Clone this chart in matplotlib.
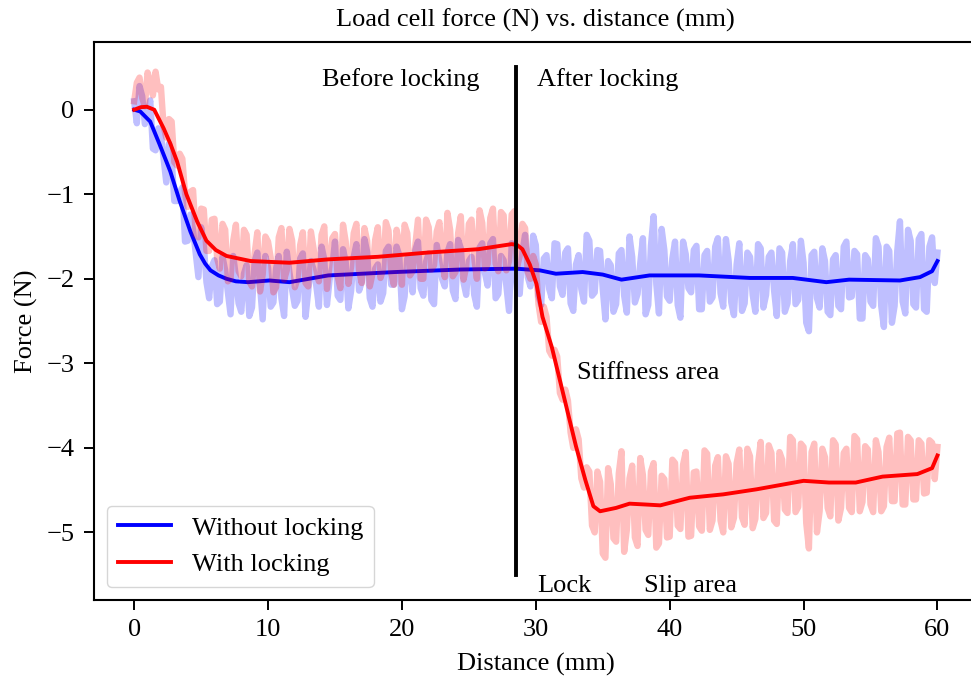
import matplotlib
matplotlib.use("Agg")
import numpy as np
import matplotlib.pyplot as plt

plt.rcParams['font.family'] = ['Liberation Serif', 'DejaVu Serif']
plt.rcParams['font.size'] = 19

# raw samples: values at 0, 0.4, 0.8 ... 60 mm
raw_without = [
    0.10, 0.28, -0.17, 0.11, -0.48, -0.30, -0.86, -0.58, -1.08, -0.92,
    -1.55, -1.42, -1.98, -1.59, -2.23, -1.78, -2.27, -1.90, -2.42, -1.98,
    -2.39, -1.84, -2.34, -1.69, -2.48, -1.87, -2.28, -1.73, -2.44, -1.93,
    -2.32, -1.76, -2.45, -1.79, -2.08, -1.62, -2.31, -1.86, -2.20, -1.65,
    -2.35, -1.74, -2.14, -1.53, -2.23, -1.88, -2.27, -1.67, -2.07, -1.62,
    -2.36, -1.76, -2.16, -1.56, -2.20, -1.70, -2.30, -1.80, -2.09, -1.59,
    -2.24, -1.64, -2.19, -1.74, -2.33, -1.58, -2.08, -1.53, -2.18, -1.78,
    -2.38, -1.63, -2.18, -1.48, -2.09, -1.60, -2.31, -1.72, -2.23, -1.59,
    -2.19, -1.64, -2.38, -1.72, -2.27, -1.55, -2.16, -1.67, -2.48, -1.84,
    -2.30, -1.66, -2.40, -1.74, -2.18, -1.52, -2.31, -1.26, -2.41, -1.66,
    -2.26, -1.56, -2.46, -1.71, -2.16, -1.61, -2.36, -1.67, -2.22, -1.52,
    -2.33, -1.78, -2.43, -1.58, -2.29, -1.74, -2.39, -1.64, -2.19, -1.69,
    -2.44, -1.69, -2.29, -1.59, -2.25, -1.81, -2.62, -1.68, -2.34, -1.79,
    -2.43, -1.72, -2.36, -1.56, -2.21, -1.71, -2.47, -1.77, -2.32, -1.62,
    -2.57, -1.67, -2.32, -1.32, -2.41, -1.55, -2.34, -1.47, -2.39, -1.51,
    -1.69,
]
# samples in between: 0.2, 0.6, 1.0 ... 59.8 mm
raw_without_mid = [
    -0.16, 0.16, -0.05, -0.46, -0.22, -0.58, -0.40, -1.08, -0.98, -1.56,
    -1.24, -1.70, -1.39, -2.04, -1.85, -2.30, -1.74, -2.16, -1.73, -2.29,
    -1.94, -2.44, -1.79, -2.09, -1.73, -2.33, -1.88, -2.23, -1.68, -2.13,
    -2.26, -1.70, -2.15, -1.89, -2.33, -1.77, -2.01, -1.56, -2.25, -1.80,
    -2.15, -1.59, -2.04, -1.68, -2.33, -1.83, -2.17, -1.62, -2.07, -1.72,
    -2.21, -1.76, -1.66, -2.11, -1.80, -2.25, -1.60, -2.00, -1.69, -2.14,
    -1.54, -2.04, -1.79, -2.19, -1.63, -1.93, -1.58, -2.23, -1.73, -2.08,
    -1.58, -2.13, -1.68, -1.98, -1.49, -2.20, -1.76, -2.12, -1.58, -2.09,
    -1.69, -2.29, -1.83, -2.12, -1.48, -2.20, -1.66, -2.12, -1.79, -2.39,
    -1.70, -2.20, -1.50, -2.28, -1.82, -2.42, -1.61, -2.06, -1.41, -2.21,
    -1.76, -2.31, -1.56, -2.11, -1.66, -2.36, -1.72, -2.27, -1.62, -2.17,
    -1.53, -2.28, -1.83, -2.38, -1.69, -2.19, -1.59, -2.34, -1.74, -2.14,
    -1.64, -2.39, -1.79, -2.30, -1.55, -2.52, -1.72, -2.23, -1.64, -2.39,
    -1.77, -2.32, -1.62, -2.22, -1.67, -2.47, -1.72, -2.27, -1.52, -2.32,
    -1.62, -2.52, -1.67, -2.27, -1.42, -2.30, -1.53, -2.36, -1.62, -2.05,
]

raw_with = [
    0.10, 0.38, 0.04, 0.34, 0.45, 0.27, -0.33, -0.14, -0.66, -0.58,
    -1.15, -0.95, -1.51, -1.18, -1.67, -1.29, -1.88, -1.42, -2.00, -1.36,
    -1.97, -1.48, -2.09, -1.45, -1.95, -1.56, -2.16, -1.51, -2.01, -1.41,
    -2.10, -1.60, -2.05, -1.44, -1.89, -1.48, -2.12, -1.52, -1.97, -1.36,
    -2.06, -1.46, -1.90, -1.40, -2.09, -1.54, -1.99, -1.33, -1.93, -1.42,
    -2.07, -1.46, -1.91, -1.30, -2.00, -1.39, -1.84, -1.33, -1.98, -1.42,
    -1.92, -1.26, -1.86, -1.30, -2.00, -1.34, -1.83, -1.17, -1.91, -1.25,
    -1.79, -1.20, -1.73, -1.40, -2.00, -1.83, -2.51, -2.45, -2.91, -2.92,
    -3.43, -3.44, -4.00, -3.90, -4.47, -4.28, -5.00, -4.40, -5.30, -4.43,
    -5.11, -4.04, -4.97, -4.21, -5.16, -4.32, -5.03, -4.18, -5.13, -4.37,
    -5.05, -4.18, -4.96, -4.05, -5.04, -4.28, -4.98, -4.07, -4.86, -4.11,
    -5.00, -4.19, -4.83, -4.02, -4.91, -4.10, -4.84, -3.93, -4.77, -4.06,
    -4.90, -4.14, -4.77, -3.91, -4.70, -3.99, -5.19, -3.95, -4.75, -4.11,
    -4.81, -3.96, -4.71, -4.01, -4.76, -3.90, -4.64, -4.02, -4.76, -4.05,
    -4.69, -3.88, -4.63, -3.82, -4.67, -3.91, -4.61, -3.95, -4.53, -3.94,
    -3.99,
]
raw_with_mid = [
    0.32, 0.14, 0.44, 0.17, 0.24, -0.20, -0.11, -0.62, -0.52, -0.99,
    -0.97, -1.48, -1.17, -1.67, -1.30, -1.76, -1.35, -2.03, -1.55, -1.91,
    -1.42, -2.03, -1.70, -2.15, -1.50, -1.75, -2.10, -1.40, -1.90, -1.55,
    -2.00, -1.45, -2.09, -1.64, -2.03, -1.38, -1.82, -1.47, -2.11, -1.56,
    -1.86, -1.35, -2.05, -1.55, -1.94, -1.39, -1.89, -1.43, -2.07, -1.57,
    -1.36, -1.96, -1.60, -2.00, -1.30, -1.89, -1.44, -1.78, -1.22, -1.97,
    -1.46, -2.01, -1.35, -1.75, -1.19, -1.88, -1.28, -1.82, -1.21, -1.90,
    -1.24, -1.86, -1.35, -1.92, -1.73, -2.30, -2.33, -2.85, -2.84, -3.35,
    -3.31, -3.82, -3.78, -4.36, -4.23, -4.92, -4.28, -5.25, -4.24, -5.07,
    -4.30, -5.23, -4.36, -5.06, -4.12, -4.97, -4.28, -5.18, -4.33, -5.06,
    -4.14, -4.92, -4.20, -5.05, -4.29, -4.93, -4.03, -4.97, -4.21, -4.86,
    -4.10, -4.94, -4.18, -4.82, -4.01, -4.95, -4.19, -4.83, -3.97, -4.86,
    -4.05, -4.73, -3.87, -4.76, -3.95, -4.89, -4.05, -5.00, -4.01, -4.71,
    -3.91, -4.86, -4.06, -4.71, -3.86, -4.75, -3.98, -4.67, -3.91, -4.75,
    -3.99, -4.63, -3.83, -4.67, -3.87, -4.61, -3.91, -4.54, -3.91, -4.37,
]

# smoothed curves
x_smooth_without = [0, 0.45, 1.2, 1.9, 2.7, 3.4, 4.2, 4.9, 5.3, 5.7, 6.3, 6.9, 7.6, 8.5,
                    10.1, 11.6, 14.5, 19.5, 24.4, 28.5, 30.3, 31.5, 33.5, 35.0, 36.4,
                    38.5, 42.2, 46.0, 49.2, 51.7, 53.4, 57.2, 58.7, 59.6, 60]
smooth_without = [0, -0.02, -0.14, -0.41, -0.73, -1.08, -1.44, -1.71, -1.82, -1.90, -1.96,
                  -2.00, -2.03, -2.04, -2.02, -2.04, -1.96, -1.92, -1.89, -1.88, -1.90,
                  -1.94, -1.92, -1.95, -2.01, -1.96, -1.96, -1.99, -1.99, -2.04, -2.01,
                  -2.02, -1.98, -1.91, -1.79]

x_smooth_with = [0, 0.5, 0.95, 1.5, 2.2, 2.7, 3.2, 3.9, 4.7, 5.4, 6.1, 6.9, 8.7, 11.6, 14.5,
                 18.2, 21.9, 25.7, 28.2, 28.6, 29.0, 29.55, 30.05, 30.5, 31.2, 31.8, 32.4,
                 33.0, 33.7, 34.3, 34.8, 36.0, 37.0, 38.2, 39.3, 41.5, 44.0, 46.5, 50.0,
                 51.9, 53.9, 55.9, 58.5, 59.6, 60]
smooth_with = [0, 0.03, 0.035, 0.0, -0.22, -0.40, -0.61, -1.00, -1.32, -1.55, -1.66, -1.73,
               -1.79, -1.81, -1.77, -1.74, -1.69, -1.65, -1.59, -1.60, -1.65, -1.83, -2.06,
               -2.45, -2.81, -3.20, -3.59, -3.98, -4.38, -4.69, -4.75, -4.71, -4.66, -4.67,
               -4.68, -4.59, -4.55, -4.49, -4.39, -4.41, -4.41, -4.34, -4.31, -4.24, -4.09]

lock_x = 28.5
lock_span = (-5.5, 0.5)


def merge(grid, mid):
    # put the in-between samples back in order -> 0.2 mm step series
    out = np.empty(len(grid) + len(mid))
    out[0::2] = grid
    out[1::2] = mid
    return out


x_raw = np.arange(len(raw_without) + len(raw_without_mid)) * 0.2
y_without = merge(raw_without, raw_without_mid)
y_with = merge(raw_with, raw_with_mid)

fig = plt.figure(figsize=(9.71, 6.79), dpi=100)
ax = fig.add_axes([0.0968, 0.1163, 0.91, 0.8217])

ax.plot(x_raw, y_without, color='blue', alpha=0.25, lw=4.6)
ax.plot(x_smooth_without, smooth_without, color='blue', lw=2.8, label='Without locking')
ax.plot(x_raw, y_with, color='red', alpha=0.25, lw=4.6)
ax.plot(x_smooth_with, smooth_with, color='red', lw=2.8, label='With locking')
ax.plot([lock_x, lock_x], lock_span, color='black', lw=2.8)

ax.text(25.8, 0.36, 'Before locking', ha='right', va='center')
ax.text(30.07, 0.36, 'After locking', ha='left', va='center')
ax.text(33.06, -3.12, 'Stiffness area', ha='left', va='center')
ax.text(30.07, -5.63, 'Lock', ha='left', va='center')
ax.text(38.06, -5.63, 'Slip area', ha='left', va='center')

ax.set_xlim(-3, 63)
ax.set_title('Load cell force (N) vs. distance (mm)', fontsize=19, pad=11)
ax.set_xlabel('Distance (mm)', labelpad=8)
ax.set_ylabel('Force (N)', labelpad=6)
ax.tick_params(length=7, width=1.4, pad=7)
for sp in ax.spines.values():
    sp.set_linewidth(1.5)
ax.legend(loc='lower left')

fig.savefig('out.png', dpi=100)
